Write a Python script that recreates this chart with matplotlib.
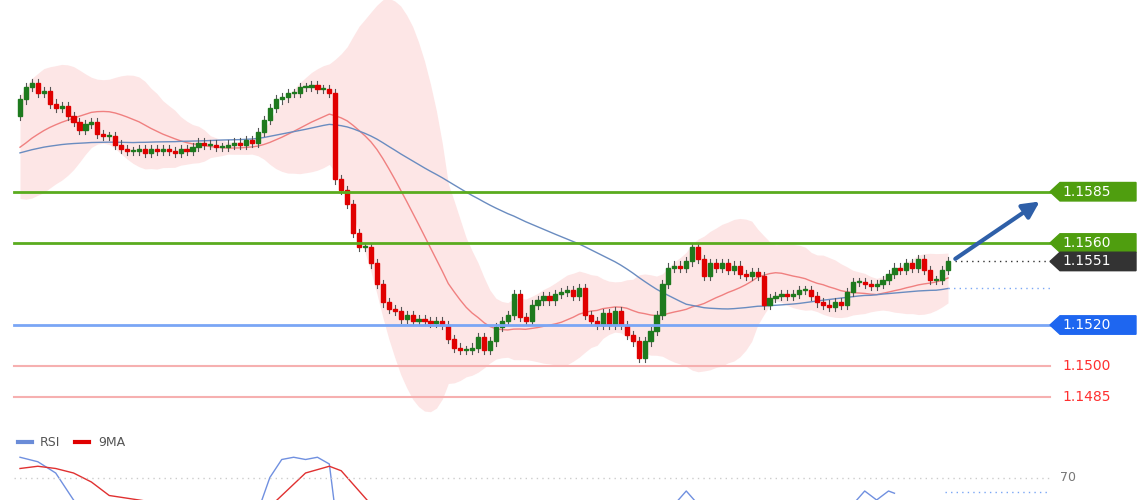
import numpy as np
import pandas as pd
import matplotlib.pyplot as plt
from matplotlib.patches import Rectangle, Polygon

# closes in pips above 1.1500 (history before the visible window, only feeds the averages)
history = [100, 102, 99, 101, 104, 103, 100, 98, 101, 103, 105, 102, 100, 99, 101, 104, 106, 103, 101, 100,
           96, 94, 92, 95, 98, 97, 100, 103, 101, 99, 96, 98, 102, 106, 110, 115, 120, 124, 126, 128]
closes = [130, 136, 138, 133, 134, 128, 126, 127, 122, 119, 115, 118, 119, 113, 112, 112, 108, 106,
          105, 105, 106, 104, 106, 105, 106, 105, 104, 106, 105, 107, 109, 108, 108, 107, 107, 108, 109, 108, 110, 109,
          114, 120, 126, 130, 131, 133, 133, 136, 136, 137, 135, 135, 133,
          91, 86, 79, 65, 58, 58, 50, 40, 31,
          28, 27, 23, 25, 22, 23, 22, 21, 22, 20, 13, 9, 8, 8,
          9, 14, 8, 12, 19, 22, 25, 35, 24, 22, 30, 32, 34, 32, 35, 36, 37, 34, 38, 25, 22, 20, 26, 20,
          27, 20, 15, 12, 4, 12, 17, 25, 40, 48, 49, 48, 51, 58, 52, 44, 50, 48, 50, 47, 49, 45, 44, 46,
          44, 30, 33, 34, 35, 34, 35, 37, 37, 34, 31, 30, 29, 31, 30, 36, 41, 41, 40, 39, 40, 42, 45, 48,
          47, 50, 48, 52, 47, 42, 42, 47, 51]
first_open = 122

levels_green = [1.1585, 1.1560]
level_blue = 1.1520
levels_red = [1.1500, 1.1485]
last_price = 1.1551

rsi_idx = [0, 3, 6, 9, 12, 40, 42, 44, 46, 48, 50, 52, 53, 110, 112, 114, 140, 142, 144, 146, 147]
rsi_val = [79, 77, 72, 60, 52, 55, 70, 78, 79, 78, 79, 76, 55, 58, 64, 58, 58, 64, 60, 64, 63]
ma_idx = [0, 3, 6, 9, 12, 15, 40, 44, 48, 52, 54, 57, 60]
ma_val = [74, 75, 74, 72, 68, 62, 52, 62, 72, 75, 73, 64, 55]

n = len(closes)
h = len(history)
c = np.array(closes, float)
o = np.r_[first_open, c[:-1]]
s = pd.Series(history + closes)
mid = s.rolling(20).mean().iloc[h:].values
sd = s.rolling(20).std().iloc[h:].values
slow = s.rolling(60, min_periods=1).mean().iloc[h:].values

step = (948 - 20) / (n - 1)
def px(xp):  # pixel -> index
    return (xp - 20) / step
def pp(price):  # price -> pips
    return (price - 1.15) * 10000

fig = plt.figure(figsize=(11.4, 5.0), dpi=100)
ax = fig.add_axes([0, 70 / 500, 1, 430 / 500])
ax.set_xlim(px(0), px(1140))
ax.set_ylim(-31.2, 178.5)
ax.axis('off')

x = np.arange(n)
ax.fill_between(x, mid + 2 * sd, mid - 2 * sd, color='#fde0e0', alpha=0.8, lw=0, zorder=1)
ax.plot(x, mid, color='#f08080', lw=1, zorder=2)
ax.plot(x, slow, color='#6a8cc0', lw=1, zorder=2)

for i in range(n):
    col = '#1e7a1e' if c[i] >= o[i] else '#e00000'
    lo, hi = min(o[i], c[i]), max(o[i], c[i])
    ax.plot([i, i], [lo - 2, hi + 2], color='#555555', lw=0.8, zorder=3)
    ax.add_patch(Rectangle((i - 0.35, lo), 0.7, max(hi - lo, 0.5), color=col, zorder=4))

xl, xr = px(14), px(1050)
for lv in levels_green:
    ax.plot([xl, xr], [pp(lv)] * 2, color='#5aab1e', lw=2, zorder=5)
ax.plot([xl, xr], [pp(level_blue)] * 2, color='#7aa6f5', lw=2, zorder=5)
for lv in levels_red:
    ax.plot([xl, xr], [pp(lv)] * 2, color='#f6b0b0', lw=1.5, zorder=5)
ax.plot([px(955), xr], [pp(last_price)] * 2, color='#333333', lw=1, ls=(0, (1, 3)), zorder=5)
ax.plot([px(948), xr], [slow[-1]] * 2, color='#7aa6f5', lw=1, ls=(0, (1, 3)), zorder=5)

def tag(price, text, color):
    y = pp(price)
    hh = 4.5
    x0, x1, x2 = px(1050), px(1060), px(1136)
    ax.add_patch(Polygon([[x0, y], [x1, y + hh], [x2, y + hh], [x2, y - hh], [x1, y - hh]],
                         closed=True, color=color, zorder=6))
    ax.text(px(1062), y, text, color='white', fontsize=10, va='center', zorder=7)

for lv in levels_green:
    tag(lv, f'{lv:.4f}', '#4f9e0f')
tag(last_price, f'{last_price:.4f}', '#333333')
tag(level_blue, f'{level_blue:.4f}', '#1e66f0')
for lv in levels_red:
    ax.text(px(1062), pp(lv), f'{lv:.4f}', color='#ff3030', fontsize=10, va='center')

ax.annotate('', xy=(px(1042), pp(1.1581)), xytext=(px(953), pp(1.15515)),
            arrowprops=dict(arrowstyle='-|>,head_width=0.5,head_length=1', color='#2e5fa8', lw=3),
            zorder=8)

# RSI panel (mostly cut off)
rx = fig.add_axes([0, 0, 1, 45 / 500])
rx.set_xlim(px(0), px(1140))
rx.set_ylim(60, 80)
rx.axis('off')
rx.plot(rsi_idx, rsi_val, color='#7090e0', lw=1)
rx.plot(ma_idx, ma_val, color='#e03030', lw=1)
rx.plot([px(14), xr], [70, 70], color='#cccccc', lw=1, ls=(0, (1, 3)))
rx.plot([px(945), xr], [63.5, 63.5], color='#7aa6f5', lw=1, ls=(0, (1, 3)))
rx.text(px(1060), 70, '70', color='#777777', fontsize=9, va='center')

fig.add_artist(plt.Line2D([18 / 1140, 32 / 1140], [58 / 500] * 2, color='#6a8cd8', lw=3))
fig.text(40 / 1140, 58 / 500, 'RSI', color='#555555', fontsize=9, va='center')
fig.add_artist(plt.Line2D([75 / 1140, 89 / 1140], [58 / 500] * 2, color='#e00000', lw=3))
fig.text(98 / 1140, 58 / 500, '9MA', color='#555555', fontsize=9, va='center')

fig.savefig('out.png', dpi=100)
